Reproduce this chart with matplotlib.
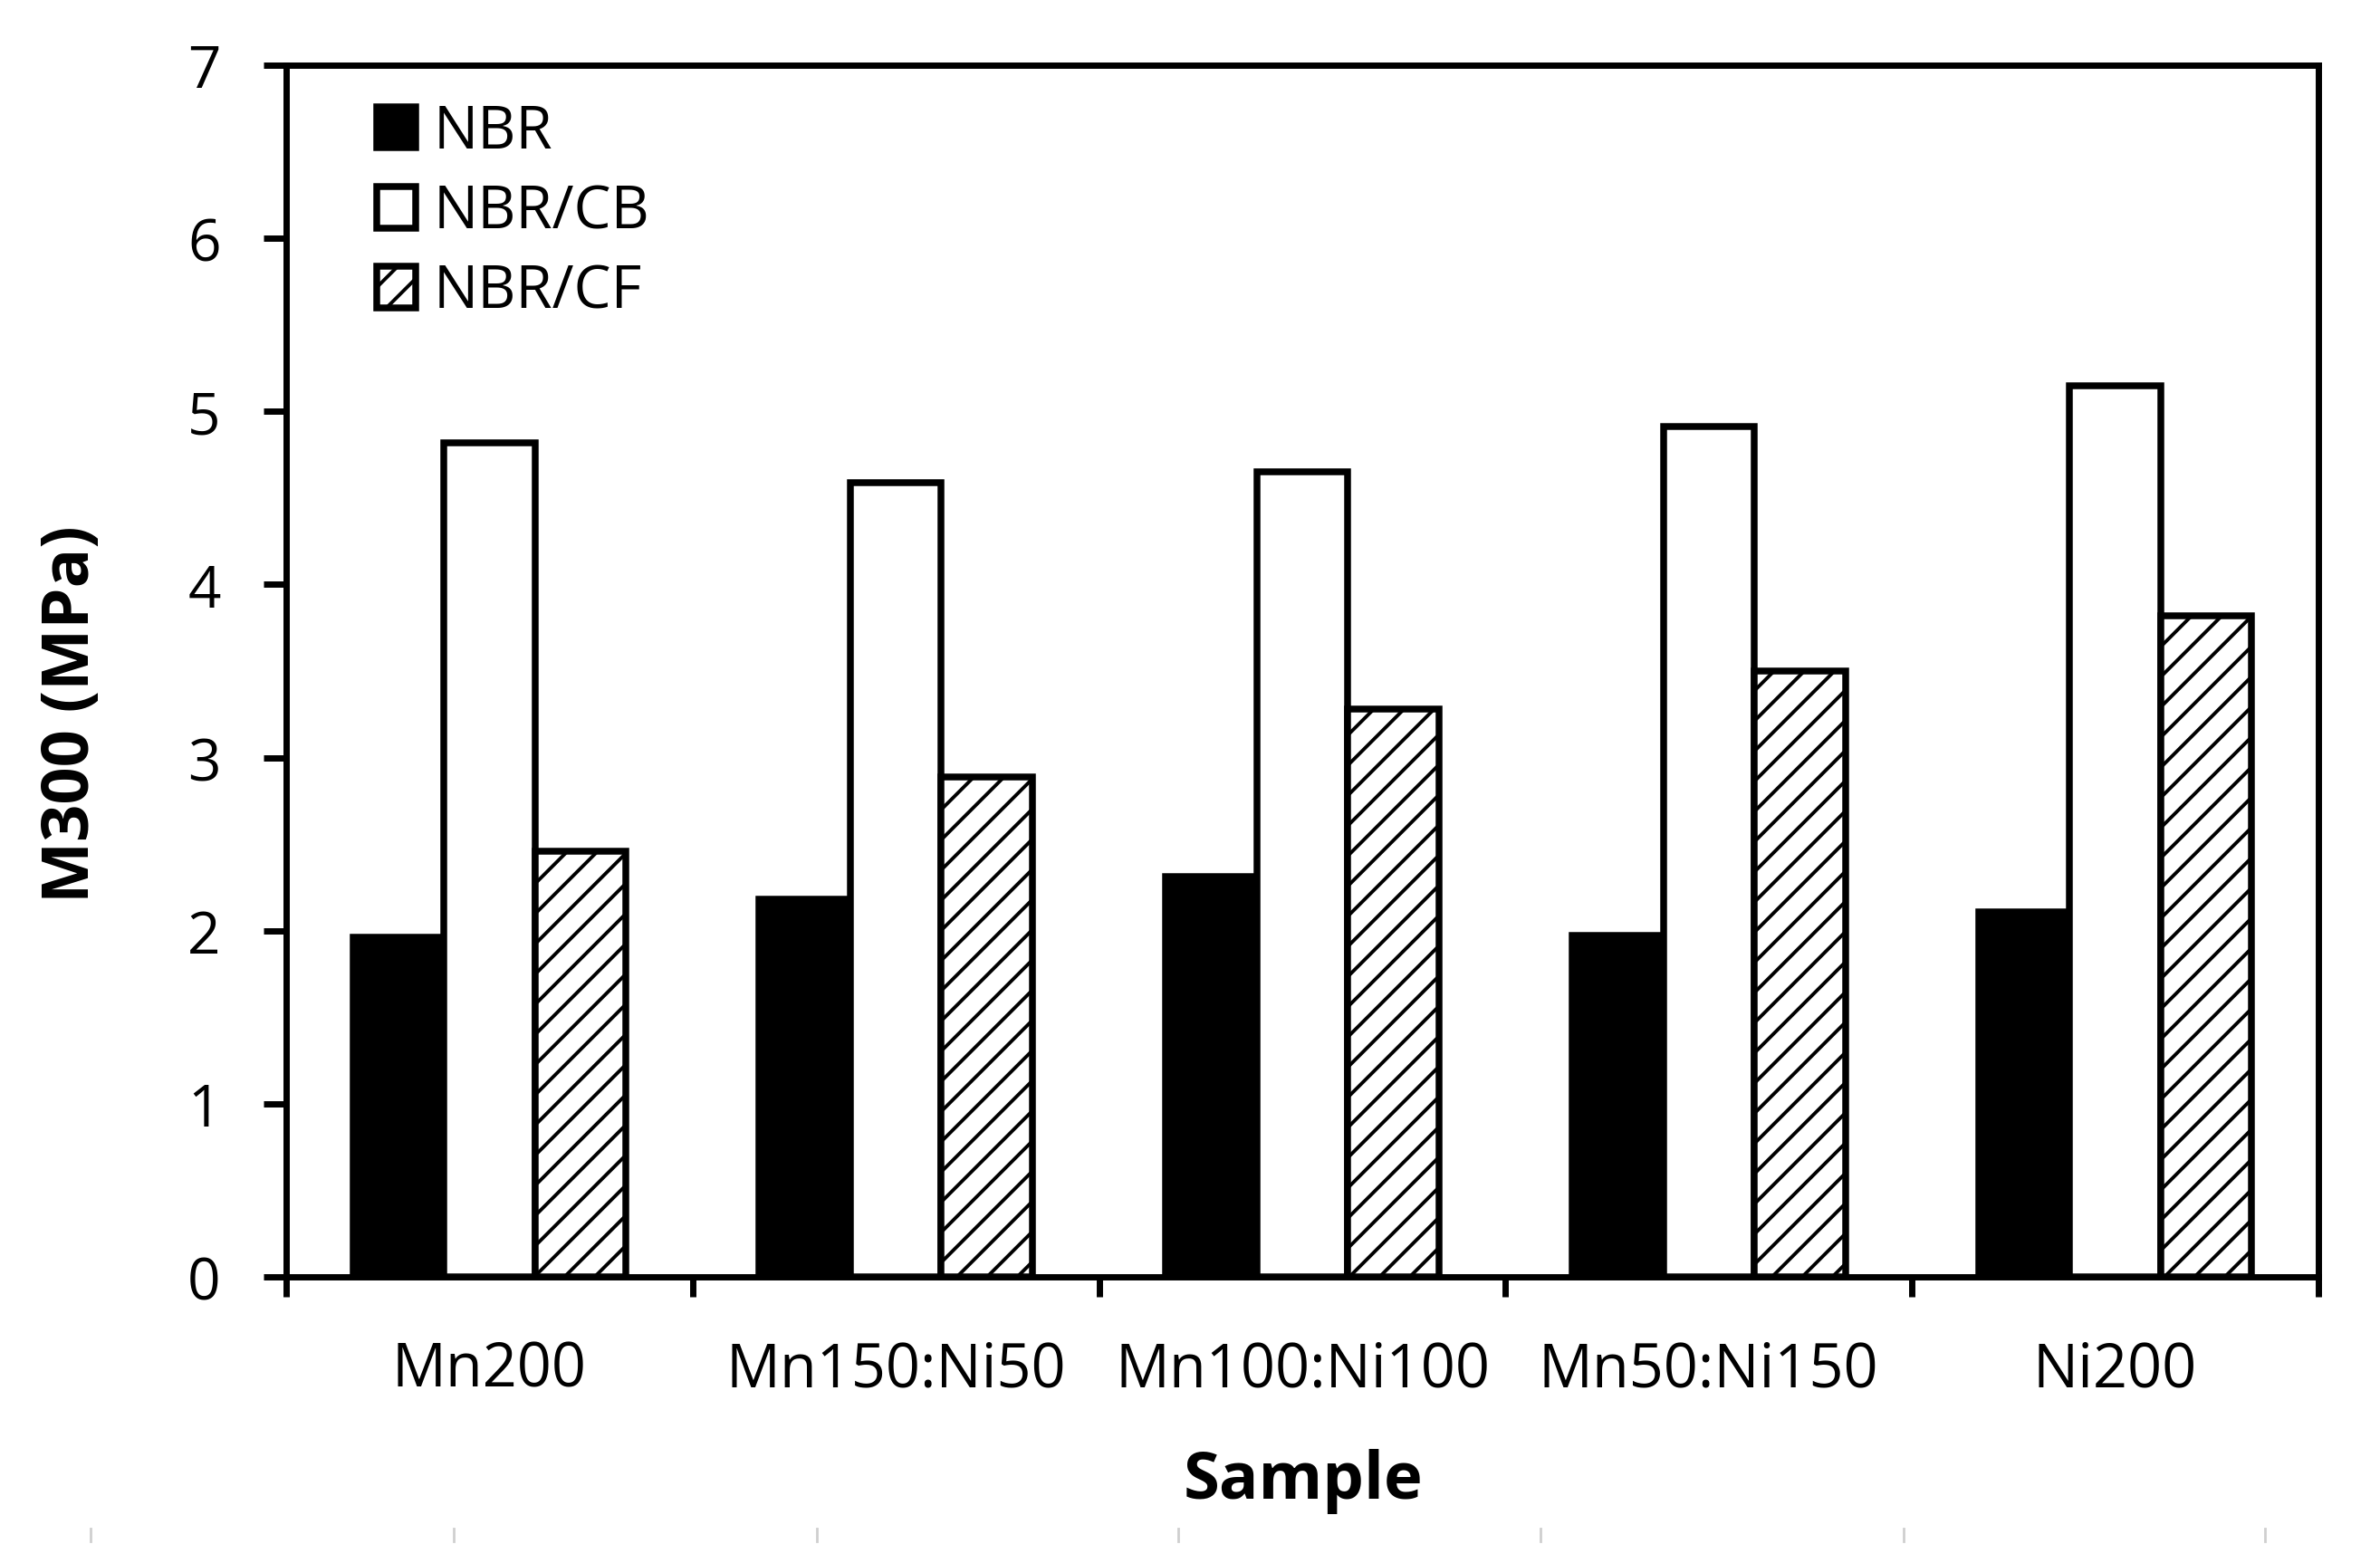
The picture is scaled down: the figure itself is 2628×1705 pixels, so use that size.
import numpy as np
import matplotlib
matplotlib.use("Agg")
import matplotlib.pyplot as plt
from matplotlib.lines import Line2D

plt.rcParams['font.family'] = ['Open Sans', 'DejaVu Sans']
plt.rcParams['hatch.linewidth'] = 1.4
plt.rcParams['hatch.color'] = '#333333'

# Data
samples = ['Mn200', 'Mn150:Ni50', 'Mn100:Ni100', 'Mn50:Ni150', 'Ni200']
nbr = [1.96, 2.18, 2.31, 1.97, 2.11]
nbr_cb = [4.82, 4.59, 4.65, 4.91, 5.15]
nbr_cf = [2.46, 2.89, 3.28, 3.50, 3.82]
series_names = ['NBR', 'NBR/CB', 'NBR/CF']
y_ticks = [0, 1, 2, 3, 4, 5, 6, 7]

W, H, DPI = 2628, 1706, 200
fig = plt.figure(figsize=(W / DPI, H / DPI), dpi=DPI)
ax = fig.add_axes([316 / W, 1 - 1411 / H, (2560 - 316) / W, (1411 - 73) / H])

x = np.arange(len(samples))
bw = 0.224
lw = 2.7
ax.bar(x - bw, nbr, bw, color='black', edgecolor='black', linewidth=lw, label=series_names[0], zorder=3)
ax.bar(x, nbr_cb, bw, color='white', edgecolor='black', linewidth=lw, label=series_names[1], zorder=3)
ax.bar(x + bw, nbr_cf, bw, color='white', edgecolor='black', linewidth=lw, hatch='//',
       label=series_names[2], zorder=3)

ax.set_xlim(-0.5, len(samples) - 0.5)
ax.set_ylim(0, 7)

for s in ax.spines.values():
    s.set_linewidth(2.5)

# y axis
ax.set_yticks(y_ticks)
ax.tick_params(axis='y', direction='out', length=9, width=2.5, pad=17, labelsize=23)

# x axis: ticks at category boundaries, labels at centers
ax.set_xticks(np.arange(len(samples) + 1) - 0.5)
ax.set_xticklabels([])
ax.set_xticks(x, minor=True)
ax.set_xticklabels(samples, minor=True)
ax.tick_params(axis='x', which='major', direction='out', length=8, width=2.5)
ax.tick_params(axis='x', which='minor', length=0, pad=25, labelsize=24)

fig.text(1439 / W, 1 - 1655 / H, 'Sample', fontsize=26, fontweight='bold',
         ha='center', va='baseline')
fig.text(98 / W, 1 - 789 / H, 'M300 (MPa)', fontsize=26, fontweight='bold',
         rotation=90, rotation_mode='anchor', ha='center', va='baseline')

leg = ax.legend(loc='upper left', bbox_to_anchor=(0.0445, 0.969), frameon=False,
                fontsize=23.5, handlelength=0.66, handleheight=0.7, handletextpad=0.3,
                labelspacing=0.34, borderpad=0, borderaxespad=0)

# faint marks at the bottom edge of the original image
for px in [100, 501, 902, 1301, 1701, 2102, 2501]:
    fig.add_artist(Line2D([px / W, px / W], [1 - 1689 / H, 1 - 1703 / H],
                          color='#cfcfcf', linewidth=1.0))

fig.savefig('out.png', dpi=DPI)
